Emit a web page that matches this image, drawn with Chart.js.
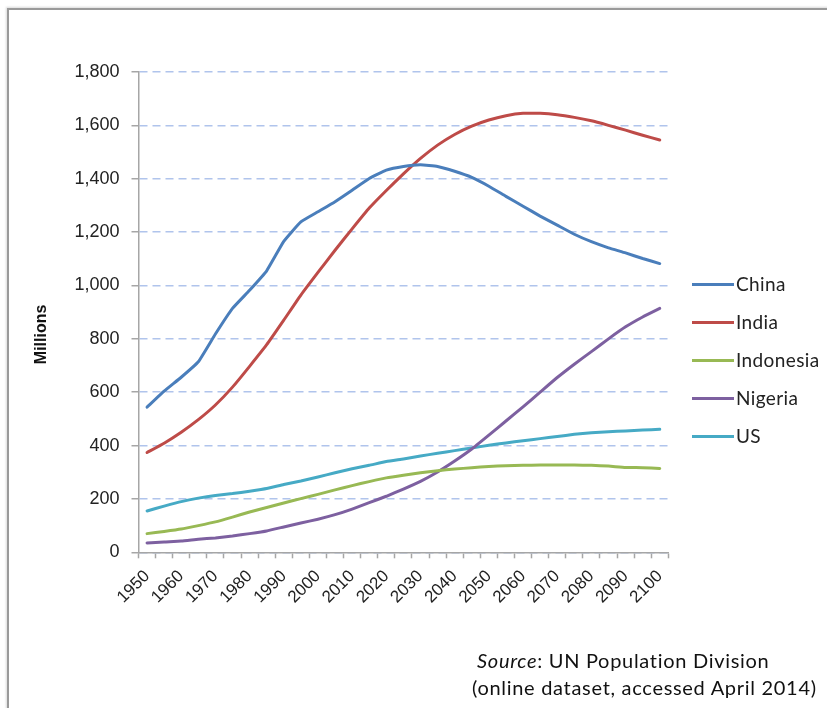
<!DOCTYPE html>
<html>
<head>
<meta charset="utf-8">
<script src="https://cdn.jsdelivr.net/npm/chart.js@4/dist/chart.umd.min.js"></script>
<style>
  html, body { margin:0; padding:0; background:#fff; }
  body { width:827px; height:708px; position:relative; overflow:hidden; }
  #frame { position:absolute; left:7px; top:8px; width:900px; height:800px; border-left:2px solid #9a9a9a; border-top:2px solid #9a9a9a; box-shadow:-1px -1px 2px rgba(0,0,0,0.15); }
  #wrap { position:absolute; left:0; top:0; width:827px; height:708px; }
  #legend { position:absolute; left:692px; top:0; font-family:Lato, "Open Sans", sans-serif; font-size:19px; letter-spacing:0.4px; color:#222; }
  .item { position:absolute; left:0; height:22px; white-space:nowrap; }
  .swatch { position:absolute; left:0; top:10px; width:42px; height:3px; }
  .lab { position:absolute; left:44px; top:0; line-height:22px; }
  #source { position:absolute; left:472px; top:647px; font-family:Lato, "Open Sans", sans-serif; font-size:20px; letter-spacing:0.7px; line-height:27px; color:#111; }
</style>
</head>
<body>
<div id="frame"></div>
<div id="wrap"><canvas id="c" width="827" height="708"></canvas></div>
<div id="legend"></div>
<div id="source"><div style="padding-left:5px"><i>Source</i>: UN Population Division</div><div>(online dataset, accessed April 2014)</div></div>
<script>
const years = [1950,1955,1960,1965,1970,1975,1980,1985,1990,1995,2000,2005,2010,2015,2020,2025,2030,2035,2040,2045,2050,2055,2060,2065,2070,2075,2080,2085,2090,2095,2100];
const seriesNames = ["China","India","Indonesia","Nigeria","US"];
const china     = [544,604,656,714,818,914,982,1055,1165,1238,1276,1314,1357,1401,1432,1446,1452,1446,1428,1405,1372,1334,1297,1260,1226,1192,1164,1141,1122,1101,1082];
const india     = [374,409,450,497,552,619,697,778,870,964,1049,1132,1212,1290,1356,1418,1476,1526,1566,1597,1620,1636,1645,1645,1640,1630,1617,1600,1582,1563,1545];
const indonesia = [70,78,87,100,114,132,151,168,185,201,217,234,250,265,279,289,298,306,312,317,322,324,326,327,327,327,326,323,318,317,314];
const nigeria   = [35,39,42,49,54,61,70,80,95,110,124,141,162,186,210,237,266,301,342,387,439,492,545,600,655,705,752,800,845,882,914];
const us        = [155,173,190,203,213,220,229,239,254,267,282,298,313,326,340,350,361,371,381,391,401,410,418,426,434,442,448,452,455,458,461];
const yTicks    = [0,200,400,600,800,1000,1200,1400,1600,1800];
const colors    = ["#4a7ebb","#be4b48","#98b954","#7d60a0","#46aac5"];
const values    = [china, india, indonesia, nigeria, us];

const datasets = seriesNames.map((n, i) => ({
  label: n, data: values[i], borderColor: colors[i], backgroundColor: colors[i],
  borderWidth: 3, pointRadius: 0, tension: 0.12, fill: false,
  borderJoinStyle: 'round', borderCapStyle: 'round'
}));

const lg = document.getElementById('legend');
seriesNames.forEach((n, i) => {
  const d = document.createElement('div'); d.className = 'item';
  d.style.top = (273 + i * 38) + 'px';
  d.innerHTML = '<div class="swatch" style="background:' + colors[i] + '"></div><div class="lab">' + n + '</div>';
  lg.appendChild(d);
});

new Chart(document.getElementById('c'), {
  type: 'line',
  data: { labels: years.map(String), datasets },
  options: {
    responsive: false, animation: false,
    layout: { padding: { left: 28, top: 72, right: 158.7, bottom: 0 } },
    plugins: { legend: { display: false }, tooltip: { enabled: false } },
    scales: {
      x: {
        type: 'category', offset: true,
        afterFit: s => { s.height = 155.7; },
        grid: { offset: true, drawOnChartArea: false, drawTicks: true, tickLength: 6, tickColor: '#a6a6a6', tickWidth: 1.5 },
        border: { display: true, color: '#a6a6a6', width: 1.5 },
        ticks: {
          autoSkip: false, maxRotation: 45, minRotation: 45, padding: 8,
          color: '#222', font: { family: 'Liberation Sans, Arial', size: 17 },
          callback: function(v, i) { return (years[i] % 10 === 0) ? String(years[i]) : ''; }
        }
      },
      y: {
        min: 0, max: 1800,
        afterFit: s => { s.width = 110.5; },
        afterBuildTicks: s => { s.ticks = yTicks.map(v => ({ value: v })); },
        title: { display: true, text: 'Millions          ', font: { family: 'Liberation Sans, Arial', size: 16, weight: 'bold' }, color: '#111', padding: { top: 4, bottom: 0 } },
        grid: { color: '#b0c4ec', lineWidth: 1.5, drawTicks: true, tickLength: 7, tickColor: '#a6a6a6', tickWidth: 1.5, tickBorderDash: [] },
        border: { display: true, color: '#a6a6a6', width: 1.5, dash: [8, 5] },
        ticks: {
          padding: 12, color: '#222', font: { family: 'Liberation Sans, Arial', size: 18 },
          callback: v => v.toLocaleString('en-US')
        }
      }
    }
  }
});
</script>
</body>
</html>
